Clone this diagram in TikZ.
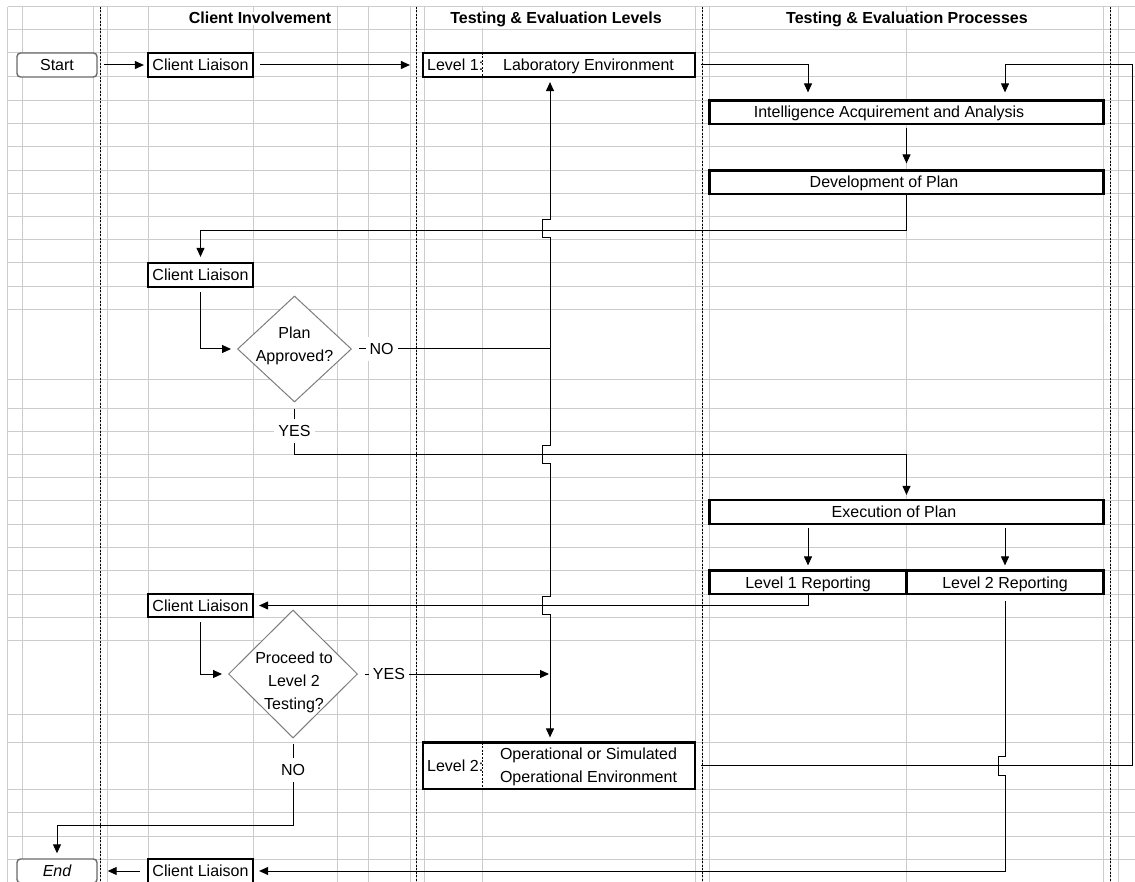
\documentclass[tikz,border=0pt]{standalone}
\usepackage{fontspec}
\setmainfont{Liberation Sans}
\usetikzlibrary{arrows.meta,shapes.geometric,calc}
\definecolor{gridgray}{RGB}{204,204,204}
\definecolor{edgegray}{RGB}{125,125,125}
\definecolor{termgray}{RGB}{105,105,105}

\begin{document}
\begin{tikzpicture}[x=1pt,y=-1pt,
  every node/.style={font=\fontsize{16}{23}\selectfont, inner sep=0pt},
  gridline/.style={gridgray,line width=1pt},
  laneline/.style={black,line width=0.9pt,dash pattern=on 2pt off 1.5pt},
  divline/.style={black,line width=0.6pt,dash pattern=on 2pt off 1.5pt},
  txt/.style={text height=11.5pt,text depth=0pt},
  stepbox/.style={rectangle,draw=black,line width=2.2pt,fill=white,txt},
  termbox/.style={rectangle,draw=termgray,line width=1.4pt,rounded corners=3.5pt,fill=white,txt},
  decision/.style={diamond,draw=edgegray,line width=1pt,fill=white},
  conn/.style={black,line width=1pt},
  arr/.style={conn,-{Triangle[length=9pt,width=8pt]}},
  lbl/.style={txt,fill=white,inner xsep=4pt,inner ysep=6pt},
  head/.style={font=\fontsize{16}{19}\selectfont\bfseries,fill=white,inner xsep=3pt,inner ysep=0.5pt,anchor=base}
]
\useasboundingbox (0,0) rectangle (1135,882);
\fill[white] (0,0) rectangle (1135,882);

% worksheet grid
\foreach \x in {7.5,22.5,93,100,107,148,253,337,368,410,416,424,482,695,702.5,709.5,906.5,1103.5,1110.5,1118}
  \draw[gridline] (\x,7) -- (\x,882);
\foreach \y in {7,29.5,53,77,100.5,124,147,170.5,194,217,240,263,287,310,380,408,431,454,477,500,524,547,570.5,594,617,640,714,742.5,789,812,836,859}
  \draw[gridline] (7.5,\y) -- (1135,\y);

% swimlane separators
\foreach \x in {100,416,702.5,1110.5}
  \draw[laneline] (\x,7) -- (\x,882);

% lane headings
\node[head] (h1) at (260,24) {Client Involvement};
\node[head] (h2) at (556,24) {Testing \& Evaluation Levels};
\node[head] (h3) at (907,24) {Testing \& Evaluation Processes};

% terminals
\node[termbox, minimum width=80pt, minimum height=24pt] (start) at (57,65) {Start};
\node[termbox, minimum width=80pt, minimum height=24pt] (endn) at (57,871) {\itshape End};

% client liaison steps
\node[stepbox, minimum width=105pt, minimum height=24pt] (cl1) at (200.5,65) {Client Liaison};
\node[stepbox, minimum width=105pt, minimum height=24pt] (cl2) at (200.5,275) {Client Liaison};
\node[stepbox, minimum width=105pt, minimum height=23pt] (cl3) at (200.5,605.5) {Client Liaison};
\node[stepbox, minimum width=105pt, minimum height=24pt] (cl4) at (200.5,871) {Client Liaison};

% testing levels
\node[stepbox, minimum width=272pt, minimum height=24pt] (lv1) at (559,65) {};
\draw[divline] (482,53) -- (482,77);
\node[txt, anchor=west] (lv1a) at (427,65) {Level 1:};
\node[txt] (lv1b) at (588.5,65) {Laboratory Environment};

\node[stepbox, minimum width=272pt, minimum height=46.5pt] (lv2) at (559,765.75) {};
\draw[divline] (482,742.5) -- (482,789);
\node[txt, anchor=west] (lv2a) at (427,765.75) {Level 2:};
\node[align=center] (lv2b) at (588.5,766.4) {Operational or Simulated\\Operational Environment};

% processes
\node[stepbox, minimum width=394pt, minimum height=23.5pt] (iaa) at (906.5,112.25) {};
\node[txt] (iaat) at (889,112.25) {Intelligence Acquirement and Analysis};
\node[stepbox, minimum width=394pt, minimum height=23.5pt] (dev) at (906.5,182.25) {};
\node[txt] (devt) at (884,182.25) {Development of Plan};
\node[stepbox, minimum width=394pt, minimum height=24pt] (exe) at (906.5,512) {};
\node[txt] (exet) at (894,512) {Execution of Plan};
\node[stepbox, minimum width=197pt, minimum height=23.5pt] (r1) at (808,582.25) {Level 1 Reporting};
\node[stepbox, minimum width=197pt, minimum height=23.5pt] (r2) at (1005,582.25) {Level 2 Reporting};

% decisions
\node[decision, minimum width=114pt, minimum height=106pt] (d1) at (294.5,349) {};
\node[align=center] (d1t) at (294.5,346.2) {Plan\\Approved?};
\node[decision, minimum width=129pt, minimum height=128pt] (d2) at (293,674) {};
\node[align=center] (d2t) at (294,682.4) {Proceed to\\Level 2\\Testing?};

% routing helpers
\coordinate (bus) at (550,0);
\coordinate (rail) at (1132,0);

% connectors
\draw[arr, shorten <=6pt, shorten >=3pt] (start.east) -- (cl1.west);
\draw[arr, shorten <=6pt, shorten >=12pt] (cl1.east) -- (lv1.west);
\draw[arr, shorten <=5pt, shorten >=7pt] (lv1.east) -| (iaa.north -| r1.north);
\draw[arr, shorten <=3pt, shorten >=6pt] (iaa.south) -- (dev.north);
\draw[arr, shorten >=5pt] (dev.south) -- ++(0,35) -| (cl2.north);
\draw[arr, shorten <=4pt, shorten >=6pt] (cl2.south) |- (d1.west);

% plan rejected: back up to the laboratory level
\draw[conn, shorten <=7pt] (d1.east) -- (d1.east -| bus);
\draw[arr, shorten >=4pt] (d1.east -| bus) -- (550,238) -- (542,238) -- (542,220) -- (550,220) -- (lv1.south -| bus);
% continuing down to the operational level
\draw[arr, shorten >=4pt] (d1.east -| bus) -- (550,445) -- (542,445) -- (542,463) -- (550,463)
  -- (550,596) -- (542,596) -- (542,614) -- (550,614) -- (lv2.north -| bus);

% plan approved: execution
\draw[arr, shorten <=6pt, shorten >=4pt] (d1.south) -- (d1.south |- 0,454) -| (exe.north);
\draw[arr, shorten <=3pt, shorten >=4pt] (exe.south -| r1.north) -- (r1.north);
\draw[arr, shorten <=3pt, shorten >=4pt] (exe.south -| r2.north) -- (r2.north);

% reporting back to the client
\draw[arr, shorten >=5pt] (r1.south) |- (cl3.east);
\draw[arr, shorten <=6pt, shorten >=5pt] (r2.south) -- (1005,756) -- (998,756) -- (998,775) -- (1005,775) |- (cl4.east);
\draw[arr, shorten <=4pt, shorten >=6pt] (cl3.south) |- (d2.west);
\draw[arr, shorten <=7pt, shorten >=1pt] (d2.east) -- (d2.east -| bus);
\draw[arr, shorten <=5pt, shorten >=5pt] (d2.south) -- ++(0,87) -| (endn.north);
\draw[arr, shorten <=7pt, shorten >=10pt] (cl4.west) -- (endn.east);

% operational level loops back to intelligence gathering
\draw[arr, shorten <=5pt, shorten >=7pt] (lv2.east) -- (lv2.east -| rail) |- (lv1.east -| r2.north) -- (iaa.north -| r2.north);

% branch labels
\node[lbl] (no1) at (381.5,349) {NO};
\node[lbl] (yes1) at (294.5,431) {YES};
\node[lbl] (yes2) at (389,674) {YES};
\node[lbl] (no2) at (293,770) {NO};
\end{tikzpicture}
\end{document}
